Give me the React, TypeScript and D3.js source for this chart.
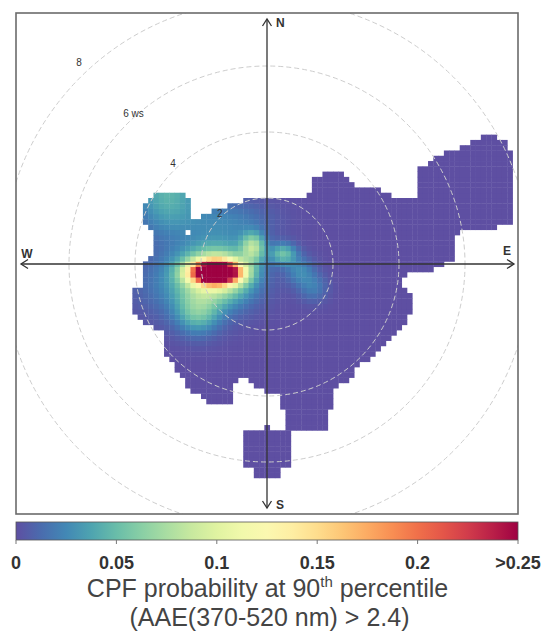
import React, { useMemo } from "react";
import * as d3 from "d3";

// ---- data ----------------------------------------------------------------
const ringSpeeds = [2, 4, 6, 8];
const ringLabels = ["2", "4", "6 ws", "8"];
const compassLabels = ["N", "E", "S", "W"];
const colorTicks = [0, 0.05, 0.1, 0.15, 0.2, 0.25];
const colorTickLabels = ["0", "0.05", "0.1", "0.15", "0.2", ">0.25"];
const titleLine1 = "CPF probability at 90";
const titleSup = "th";
const titleLine1End = " percentile";
const titleLine2 = "(AAE(370-520 nm) > 2.4)";

// Outline of the area with enough data (u = east, v = north, in ws units)
const mainOutline: [number, number][] = [
  [-3.29, 2.14], [-2.79, 2.14], [-2.43, 2.07], [-2.28, 1.89], [-2.28, 1.28],
  [-2.13, 1.38], [-1.73, 1.51], [-1.52, 1.69], [-0.97, 1.84], [-0.62, 1.99],
  [-0.01, 2.04], [0.24, 1.91], [0.29, 2.04], [1.25, 2.06], [1.35, 2.6],
  [1.71, 2.75], [2.26, 2.75], [2.62, 2.39], [3.42, 2.27], [3.83, 2.07],
  [4.43, 1.94], [4.54, 2.24], [4.64, 2.9], [5.04, 3.2], [5.65, 3.45],
  [6.25, 3.73], [6.66, 3.91], [7.06, 3.81], [7.31, 3.61], [7.46, 3.2],
  [7.46, 1.18], [5.95, 1.0], [5.65, 0.88], [5.6, 0.12], [5.24, -0.13],
  [4.64, -0.28], [4.08, -0.35], [4.03, -0.74], [4.33, -0.84], [4.38, -1.45],
  [4.23, -1.75], [3.93, -2.05], [3.63, -2.45], [3.22, -2.76], [2.82, -3.06],
  [2.52, -3.46], [2.01, -3.77], [1.99, -4.37], [1.86, -4.52], [1.81, -5.03],
  [0.6, -5.03], [0.39, -3.87], [-0.01, -3.87], [-0.42, -3.72], [-0.52, -3.46],
  [-0.82, -3.46], [-0.97, -3.67], [-1.12, -4.17], [-1.83, -4.17], [-2.33, -3.77],
  [-2.74, -3.26], [-3.04, -2.76], [-3.04, -2.05], [-3.65, -1.85], [-4.05, -1.55],
  [-4.05, -0.79], [-3.8, -0.64], [-3.8, 0.12], [-3.49, 0.17], [-3.49, 0.83],
  [-3.45, 0.98], [-3.75, 1.18], [-3.75, 1.69], [-3.6, 1.97],
];
const southOutline: [number, number][] = [
  [-0.7, -5.09], [-0.52, -4.97], [-0.15, -4.97], [-0.12, -4.82], [0.12, -4.82],
  [0.15, -4.97], [0.52, -4.97], [0.67, -5.12], [0.67, -6.12], [0.48, -6.18],
  [0.39, -6.45], [-0.33, -6.45], [-0.45, -6.21], [-0.7, -6.12],
];
const gapOutline: [number, number][] = [
  [-2.5, 0.86], [-2.3, 0.86], [-2.3, 1.04], [-2.5, 1.04],
];

// CPF surface components: centre (u, v), peak probability, spread along u and v
const surfaceU = [-1.55, -1.5, -2.2, -2.1, -0.42, 0.49, 1.0, 1.4, -3.0, -1.2];
const surfaceV = [-0.24, -0.25, -0.6, -1.45, 0.52, 0.32, -0.2, -0.7, 2.2, 1.3];
const surfacePeak = [0.35, 0.1, 0.03, 0.045, 0.07, 0.05, 0.025, 0.02, 0.045, 0.022];
const surfaceSpreadU = [0.48, 0.7, 1.1, 0.45, 0.25, 0.28, 0.3, 0.3, 0.7, 0.9];
const surfaceSpreadV = [0.22, 0.55, 0.7, 0.45, 0.3, 0.22, 0.3, 0.3, 0.9, 0.45];

// ---- layout --------------------------------------------------------------
const W = 547;
const H = 634;
const CX = 267;
const CY = 264;
const BOX = { x: 16, y: 13, w: 502, h: 501 };
const BAR = { x: 16, y: 522, w: 502, h: 18 };
const FONT = "'Liberation Sans', Arial, Helvetica, sans-serif";
const GRID_N = 101;
const WS_MAX = 8;

function cpfAt(u: number, v: number) {
  let s = 0;
  for (let k = 0; k < surfaceU.length; k++) {
    const du = (u - surfaceU[k]) / surfaceSpreadU[k];
    const dv = (v - surfaceV[k]) / surfaceSpreadV[k];
    s += surfacePeak[k] * Math.exp(-0.5 * (du * du + dv * dv));
  }
  return s;
}

export default function App() {
  const r = d3.scaleLinear().domain([0, WS_MAX]).range([0, 264]);
  const x = d3.scaleLinear().domain([-WS_MAX, WS_MAX]).range([CX - r(WS_MAX), CX + r(WS_MAX)]);
  const y = d3.scaleLinear().domain([-WS_MAX, WS_MAX]).range([CY + r(WS_MAX), CY - r(WS_MAX)]);
  const color = d3
    .scaleSequential((t: number) => d3.interpolateSpectral(1 - t))
    .domain([0, 0.25])
    .clamp(true);
  const barX = d3.scaleLinear().domain([0, 0.25]).range([BAR.x, BAR.x + BAR.w]);

  const cells = useMemo(() => {
    const step = (2 * WS_MAX) / (GRID_N - 1);
    const out: { u: number; v: number; val: number }[] = [];
    for (let i = 0; i < GRID_N; i++) {
      for (let j = 0; j < GRID_N; j++) {
        const u = -WS_MAX + i * step;
        const v = -WS_MAX + j * step;
        const inside =
          (d3.polygonContains(mainOutline, [u, v]) || d3.polygonContains(southOutline, [u, v])) &&
          !d3.polygonContains(gapOutline, [u, v]);
        if (inside) out.push({ u, v, val: cpfAt(u, v) });
      }
    }
    return { out, step };
  }, []);

  const cellPx = x(cells.step) - x(0);
  const labelAngle = (-43 * Math.PI) / 180;
  const ink = "#333";

  const arrow = (tx: number, ty: number, dir: string) => {
    const a = 4.5, b = 7;
    let pts: number[][] = [];
    if (dir === "up") pts = [[tx - a, ty + b], [tx, ty], [tx + a, ty + b]];
    if (dir === "down") pts = [[tx - a, ty - b], [tx, ty], [tx + a, ty - b]];
    if (dir === "left") pts = [[tx + b, ty - a], [tx, ty], [tx + b, ty + a]];
    if (dir === "right") pts = [[tx - b, ty - a], [tx, ty], [tx - b, ty + a]];
    return <polyline points={pts.map((p) => p.join(",")).join(" ")} fill="none" stroke={ink} strokeWidth={1.3} />;
  };

  const top = 19, bottom = 508, left = 21, right = 514;

  return (
    <svg width={W} height={H} style={{ position: "absolute", left: 0, top: 0, background: "#fff" }} fontFamily={FONT}>
      <defs>
        <clipPath id="plotClip">
          <rect x={BOX.x} y={BOX.y} width={BOX.w} height={BOX.h} />
        </clipPath>
        <linearGradient id="cpfGrad" x1="0" x2="1" y1="0" y2="0">
          {d3.range(0, 1.0001, 0.05).map((t) => (
            <stop key={t} offset={`${t * 100}%`} stopColor={color(t * 0.25)} />
          ))}
        </linearGradient>
      </defs>

      <g clipPath="url(#plotClip)">
        {cells.out.map((c, i) => (
          <rect
            key={i}
            x={x(c.u) - cellPx / 2}
            y={y(c.v) - cellPx / 2}
            width={cellPx + 0.4}
            height={cellPx + 0.4}
            fill={color(c.val)}
          />
        ))}
        {ringSpeeds.map((s) => (
          <circle key={s} cx={CX} cy={CY} r={r(s)} fill="none" stroke="#cdcdcd" strokeWidth={1} strokeDasharray="5,3" />
        ))}
      </g>

      {/* axes */}
      <line x1={CX} x2={CX} y1={top} y2={bottom} stroke={ink} strokeWidth={1.3} />
      <line x1={left} x2={right} y1={CY} y2={CY} stroke={ink} strokeWidth={1.3} />
      {arrow(CX, top, "up")}
      {arrow(CX, bottom, "down")}
      {arrow(left, CY, "left")}
      {arrow(right, CY, "right")}
      <text x={CX + 9} y={27} fontSize={12} fontWeight="bold" fill={ink}>{compassLabels[0]}</text>
      <text x={right - 7} y={255} fontSize={12} fontWeight="bold" fill={ink} textAnchor="middle">{compassLabels[1]}</text>
      <text x={CX + 9} y={509} fontSize={12} fontWeight="bold" fill={ink}>{compassLabels[2]}</text>
      <text x={left + 6} y={258} fontSize={12} fontWeight="bold" fill={ink} textAnchor="middle">{compassLabels[3]}</text>

      {ringSpeeds.map((s, i) => {
        const rl = r(s) + 1.4 * s;
        return (
          <text
            key={s}
            x={CX + rl * Math.sin(labelAngle) - 3}
            y={CY - rl * Math.cos(labelAngle) + 3.5}
            fontSize={10}
            fill={ink}
          >
            {ringLabels[i]}
          </text>
        );
      })}

      <rect x={BOX.x} y={BOX.y} width={BOX.w} height={BOX.h} fill="none" stroke="#6b6b6b" strokeWidth={1.6} />

      {/* colour key */}
      <rect x={BAR.x} y={BAR.y} width={BAR.w} height={BAR.h} fill="url(#cpfGrad)" stroke="#555" strokeWidth={0.8} />
      {colorTicks.map((t, i) => (
        <g key={t}>
          <line x1={barX(t)} x2={barX(t)} y1={BAR.y + BAR.h} y2={BAR.y + BAR.h + 4} stroke="#777" strokeWidth={1} />
          <text x={barX(t)} y={569} fontSize={18} fontWeight="bold" fill="#333" textAnchor="middle">
            {colorTickLabels[i]}
          </text>
        </g>
      ))}
      <text x={W / 2 - 6} y={597} fontSize={25} fill="#444" textAnchor="middle">
        {titleLine1}
        <tspan fontSize={15} dy={-10}>{titleSup}</tspan>
        <tspan dy={10}>{titleLine1End}</tspan>
      </text>
      <text x={W / 2 - 4} y={626} fontSize={25} fill="#444" textAnchor="middle">{titleLine2}</text>
    </svg>
  );
}
